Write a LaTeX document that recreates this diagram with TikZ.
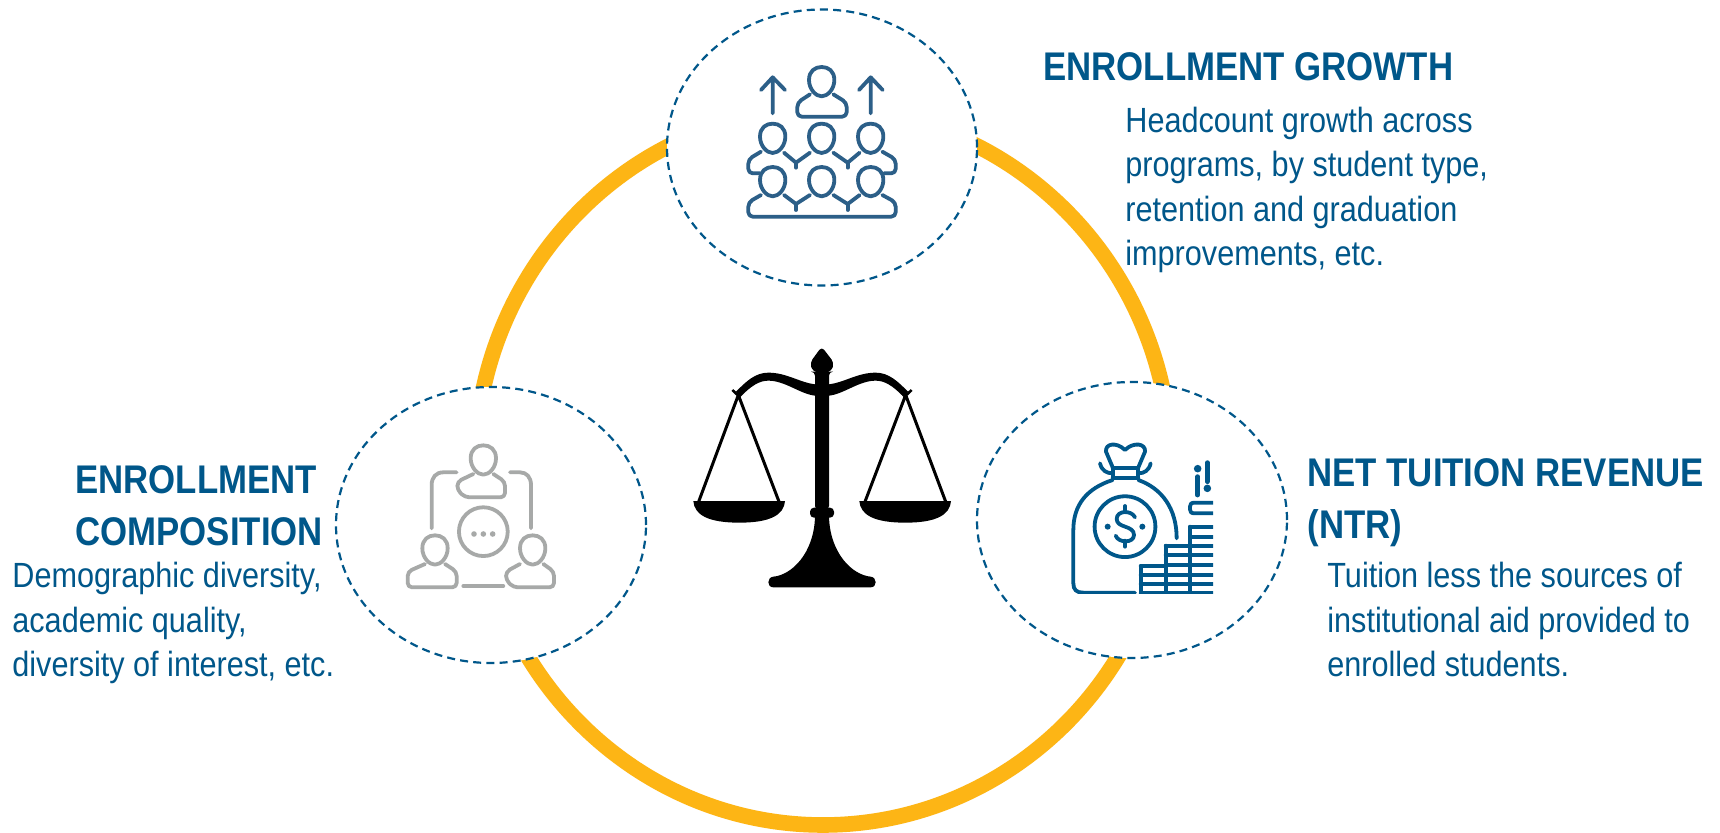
\documentclass[tikz,border=0pt]{standalone}
\usepackage{fontspec}
\setmainfont{Liberation Sans}
\newfontfamily\headfont[FakeStretch=0.87]{Liberation Sans Bold}
\newfontfamily\bodyfont[FakeStretch=0.875]{Liberation Sans}
\usetikzlibrary{shapes.geometric}
\definecolor{tblue}{HTML}{00578A}
\definecolor{ringy}{HTML}{FDB515}
\definecolor{icona}{HTML}{2C5F88}
\definecolor{iconb}{HTML}{A7A9A8}
\tikzset{
  hub/.style={ellipse,draw=tblue,fill=white,line width=1.1pt,dash pattern=on 4pt off 2.6pt,minimum width=155pt,minimum height=138pt,inner sep=0pt},
  headtxt/.style={anchor=base west,inner sep=0pt,align=left,text=tblue,font=\headfont\fontsize{20}{26}\selectfont},
  bodytxt/.style={anchor=base west,inner sep=0pt,align=left,text=tblue,font=\bodyfont\fontsize{17.5}{22.3}\selectfont},
  zoomed/.style={x=0.16667pt,y=-0.16667pt},
  iconline/.style={line width=1.9pt,line cap=round,line join=round},
  softly/.style={rounded corners=2.2pt},
}
\newcommand{\zhead}[2]{\draw (#1-38,#2-5) .. controls (#1-38,#2-32) and (#1-20,#2-44) .. (#1,#2-44) .. controls (#1+20,#2-44) and (#1+38,#2-32) .. (#1+38,#2-5) .. controls (#1+38,#2+22) and (#1+18,#2+44) .. (#1,#2+44) .. controls (#1-18,#2+44) and (#1-38,#2+22) .. (#1-38,#2-5) -- cycle;}
\begin{document}
\begin{tikzpicture}[x=0.5pt,y=-0.5pt]
\useasboundingbox (0,0) rectangle (1720,833);
\fill[white] (0,0) rectangle (1720,833);
% ring
\draw[ringy,line width=7.8pt] (823,467) ellipse [x radius=174pt,y radius=179pt];
% hubs
\node[hub] (top) at (822,147.5) {};
\node[hub] (left) at (491,525) {};
\node[hub] (right) at (1132,520) {};
% icon 1
\begin{scope}[shift={(660,0)},zoomed,draw=icona,iconline]
\zhead{485}{245}
\draw[softly] (450,283) -- (412,308) -- (412,350) -- (560,350) -- (560,308) -- (520,283);
\foreach \hx in {338,485,632} {\zhead{\hx}{415}\zhead{\hx}{545}}
\draw[softly] (303,455) -- (265,478) -- (265,520) -- (300,520);
\draw (372,458) -- (408,488) -- (450,458);
\draw (520,458) -- (563,488) -- (599,458);
\draw[softly] (667,455) -- (707,478) -- (707,520) -- (672,520);
\draw (408,488) -- (408,503) (563,488) -- (563,503);
\draw[softly] (303,585) -- (265,607) -- (265,650) -- (707,650) -- (707,607) -- (667,585);
\draw (372,585) -- (408,612) -- (450,585);
\draw (520,585) -- (563,612) -- (599,585);
\draw (408,612) -- (408,630) (563,612) -- (563,630);
\draw (338,340) -- (338,235) (303,270) -- (338,232) -- (375,270);
\draw (632,340) -- (632,235) (597,270) -- (632,232) -- (668,270);
\end{scope}
% icon 2
\begin{scope}[shift={(330,380)},zoomed,draw=iconb,iconline]
\zhead{460}{240}
\draw[softly] (430,282) -- (382,305) -- (382,330) -- (405,352) -- (525,352) -- (525,305) -- (490,282);
\zhead{315}{510}
\draw[softly] (285,552) -- (233,575) -- (233,622) -- (380,622) -- (380,575) -- (345,552);
\zhead{608}{510}
\draw[softly] (570,552) -- (528,575) -- (528,600) -- (550,622) -- (672,622) -- (672,575) -- (640,552);
\draw (380,277) -- (340,277) .. controls (318,277) and (305,292) .. (305,315) -- (305,445);
\draw (540,277) -- (570,277) .. controls (590,277) and (603,292) .. (603,315) -- (603,445);
\draw (400,618) -- (520,618);
\draw (460,455) circle [radius=12.2pt];
\fill[iconb] (432,462) circle [radius=1.4pt] (460,462) circle [radius=1.4pt] (488,462) circle [radius=1.4pt];
\end{scope}
% icon 3
\begin{scope}[shift={(970,380)},zoomed,draw=tblue,iconline]
\begin{scope}
\clip (290,170) rectangle (729,641);
\draw (428,265) -- (505,265) (428,295) -- (505,295) (428,265) -- (428,295) (505,265) -- (505,295);
\draw (428,262) -- (408,215) .. controls (405,190) and (440,185) .. (465,210) .. controls (490,185) and (528,190) .. (525,215) -- (505,262);
\draw (390,250) .. controls (395,272) and (410,280) .. (428,280);
\draw (542,250) .. controls (537,272) and (522,280) .. (505,280);
\draw (428,300) .. controls (350,325) and (310,375) .. (310,450) -- (310,610) .. controls (310,630) and (320,638) .. (340,638) -- (495,638);
\draw (505,300) .. controls (575,325) and (620,385) .. (620,475);
\draw (465,440) circle [radius=15.2pt];
\draw (465,378) -- (465,396) (465,482) -- (465,500);
\draw (495,412) .. controls (485,390) and (440,390) .. (440,417) .. controls (440,445) and (492,435) .. (492,465) .. controls (492,490) and (445,490) .. (437,467);
\fill[tblue] (413,440) circle [radius=1.5pt] (517,440) circle [radius=1.5pt];
\draw (740,368) -- (675,368) .. controls (663,368) and (660,372) .. (660,380) -- (660,388) .. controls (660,396) and (663,400) .. (675,400) -- (740,400);
\foreach \cy in {440,470,497,525,555,585,612,640} {\draw (660,\cy) -- (740,\cy);}
\foreach \cy in {497,525,555,585,612,640} {\draw (587,\cy) -- (660,\cy);}
\foreach \cy in {558,585,612,640} {\draw (512,\cy) -- (587,\cy);}
\draw (512,558) -- (512,650) (587,497) -- (587,650) (660,440) -- (660,650);
\end{scope}
\draw[line width=2.4pt] (683,290) -- (683,345) (712,248) -- (712,305);
\fill[tblue] (683,266) circle [radius=1.9pt] (712,325) circle [radius=1.9pt];
\end{scope}
% scales
\begin{scope}[shift={(680,330)},zoomed]
\fill[black,rounded corners=2pt] (425,50) -- (390,98) -- (398,125) -- (405,125) -- (405,540) -- (447,540) -- (447,125) -- (454,125) -- (462,98) -- cycle;
\fill[black] (405,163) .. controls (360,158) and (320,128) .. (265,128) .. controls (225,128) and (198,155) .. (168,185) -- (180,202) .. controls (215,165) and (240,152) .. (265,152) .. controls (315,152) and (360,192) .. (405,197) -- cycle;
\fill[black] (447,163) .. controls (492,158) and (532,128) .. (587,128) .. controls (627,128) and (654,155) .. (684,185) -- (672,202) .. controls (637,165) and (612,152) .. (587,152) .. controls (537,152) and (492,192) .. (447,197) -- cycle;
\draw[black,line width=1.3pt] (157,180) -- (175,197) -- (190,180) (695,180) -- (677,197) -- (662,180);
\draw[black,line width=1.5pt] (56,515) -- (175,195) -- (297,515) (555,515) -- (677,195) -- (797,515);
\fill[black] (40,513) -- (315,513) .. controls (312,555) and (270,578) .. (178,578) .. controls (85,578) and (43,555) .. (40,513) -- cycle;
\fill[black] (538,513) -- (813,513) .. controls (810,555) and (768,578) .. (676,578) .. controls (583,578) and (541,555) .. (538,513) -- cycle;
\fill[black,rounded corners=2pt] (390,533) rectangle (462,563);
\fill[black] (405,560) .. controls (402,670) and (335,735) .. (280,740) .. controls (260,742) and (260,772) .. (280,772) -- (572,772) .. controls (592,772) and (592,742) .. (572,740) .. controls (517,735) and (450,670) .. (447,560) -- cycle;
\end{scope}
% text
\node[headtxt] (h1) at (1043,81) {ENROLLMENT GROWTH};
\node[bodytxt] (b1) at (1125,266) {Headcount growth across\\programs, by student type,\\retention and graduation\\improvements, etc.};
\node[headtxt] (h2) at (75,546) {ENROLLMENT\\COMPOSITION};
\node[bodytxt] (b2) at (12,677) {Demographic diversity,\\academic quality,\\diversity of interest, etc.};
\node[headtxt] (h3) at (1307,539) {NET TUITION REVENUE\\(NTR)};
\node[bodytxt] (b3) at (1327,677) {Tuition less the sources of\\institutional aid provided to\\enrolled students.};
\end{tikzpicture}
\end{document}
